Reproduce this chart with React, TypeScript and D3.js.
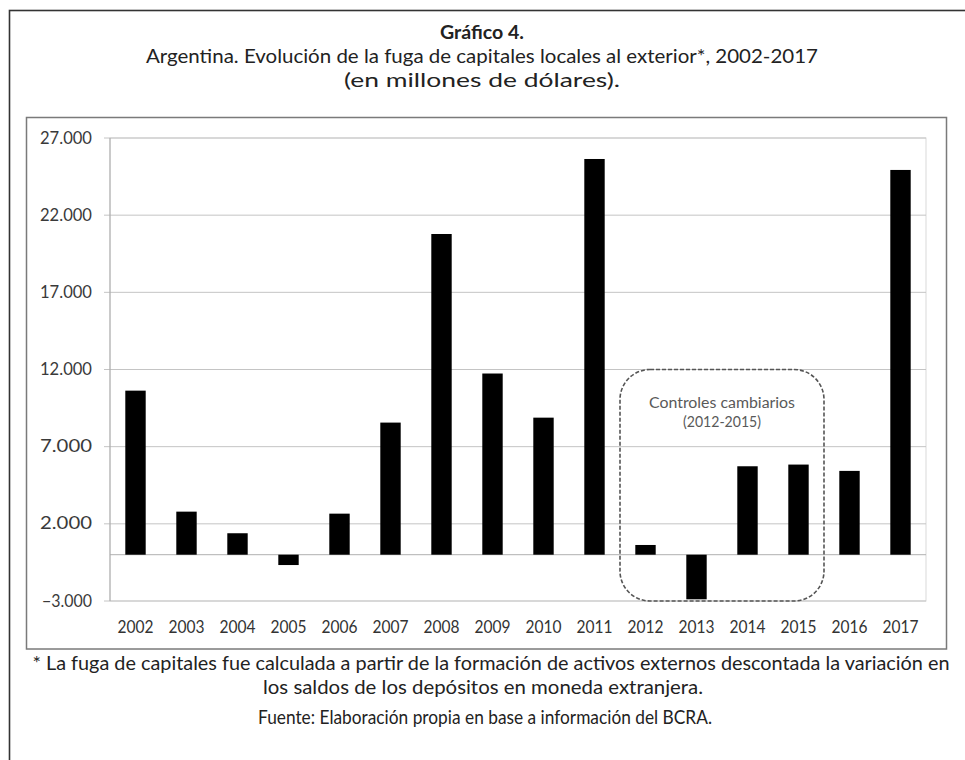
import React from "react";
import * as d3 from "d3";

const years = ["2002","2003","2004","2005","2006","2007","2008","2009","2010","2011","2012","2013","2014","2015","2016","2017"];
const fuga = [10630, 2790, 1390, -670, 2660, 8560, 20780, 11740, 8880, 25640, 630, -2890, 5730, 5840, 5430, 24930];
const yTicks = [-3000, 2000, 7000, 12000, 17000, 22000, 27000];
const annotYears = ["2012", "2015"];
const annotRange = [-3000, 12000];
const annotLines = ["Controles cambiarios", "(2012-2015)"];
const titleLines = ["Gráfico 4.", "Argentina. Evolución de la fuga de capitales locales al exterior*, 2002-2017", "(en millones de dólares)."];
const noteLines = [
  "* La fuga de capitales fue calculada a partir de la formación de activos externos descontada la variación en",
  "los saldos de los depósitos en moneda extranjera.",
  "Fuente: Elaboración propia en base a información del BCRA.",
];

const W = 965, H = 760;
const FONT = "Lato, 'Open Sans', sans-serif";
const fmt = d3.formatLocale({ decimal: ",", thousands: ".", grouping: [3], currency: ["$", ""] }).format(",.0f");

export default function App() {
  const x = d3.scaleBand<string>().domain(years).range([110, 926]).paddingInner(0.6).paddingOuter(0.3);
  const y = d3.scaleLinear().domain([-3000, 27000]).range([601, 138]);
  const halfGap = (x.step() * x.paddingInner()) / 2;
  const ax0 = (x(annotYears[0]) as number) - halfGap;
  const ax1 = (x(annotYears[1]) as number) + x.bandwidth() + halfGap;
  const ay0 = y(annotRange[1]);
  const ay1 = y(annotRange[0]);
  const axc = (ax0 + ax1) / 2;

  return (
    <svg width={W} height={H} style={{ position: "absolute", left: 0, top: 0, background: "#fff" }} fontFamily={FONT}>
      <rect x={0} y={0} width={W} height={H} fill="#fff" />
      {/* outer frame */}
      <rect x={9.5} y={10.5} width={1000} height={800} fill="none" stroke="#333" strokeWidth={1.6} />
      {/* titles */}
      <text x={482} y={39} textAnchor="middle" fontSize={19} fontWeight="bold" fill="#222" textLength={84} lengthAdjust="spacingAndGlyphs">{titleLines[0]}</text>
      <text x={482} y={63} textAnchor="middle" fontSize={19} fill="#222" textLength={672} lengthAdjust="spacingAndGlyphs">{titleLines[1]}</text>
      <text x={482} y={87} textAnchor="middle" fontSize={19} fill="#222" textLength={276} lengthAdjust="spacingAndGlyphs">{titleLines[2]}</text>
      {/* chart frame */}
      <rect x={26.5} y={117.5} width={920} height={531.5} fill="#fff" stroke="#7a7a7a" strokeWidth={1.5} />
      {/* plot area border */}
      <rect x={110} y={y(27000)} width={816} height={y(-3000) - y(27000)} fill="none" stroke="#d9d9d9" strokeWidth={1} />
      {/* gridlines + ticks */}
      {yTicks.map((t) => (
        <g key={t}>
          <line x1={104} x2={926} y1={y(t)} y2={y(t)} stroke="#c4c4c4" strokeWidth={1} />
          <text x={92} y={y(t) + 5.5} textAnchor="end" fontSize={17} fill="#3a3a3a" textLength={t < 0 ? 50 : 52} lengthAdjust="spacingAndGlyphs">{fmt(t)}</text>
        </g>
      ))}
      {/* zero line */}
      <line x1={110} x2={926} y1={y(0)} y2={y(0)} stroke="#b0b0b0" strokeWidth={1} />
      {/* y axis */}
      <line x1={110} x2={110} y1={y(27000)} y2={y(-3000)} stroke="#a8a8a8" strokeWidth={1} />
      {/* bars */}
      {years.map((yr, i) => {
        const v = fuga[i];
        const top = y(Math.max(0, v));
        const bot = y(Math.min(0, v));
        return <rect key={yr} x={x(yr)} y={top} width={x.bandwidth()} height={bot - top} fill="#000" />;
      })}
      {/* x labels */}
      {years.map((yr) => (
        <text key={yr} x={(x(yr) as number) + x.bandwidth() / 2} y={633} textAnchor="middle" fontSize={17.5} fill="#333" textLength={36} lengthAdjust="spacingAndGlyphs">{yr}</text>
      ))}
      {/* annotation */}
      <rect x={ax0} y={ay0} width={ax1 - ax0} height={ay1 - ay0} rx={30} ry={30} fill="none" stroke="#555" strokeWidth={1.6} strokeDasharray="4 2" />
      <text x={axc} y={ay0 + 38} textAnchor="middle" fontSize={15.5} fill="#595959" textLength={146} lengthAdjust="spacingAndGlyphs">{annotLines[0]}</text>
      <text x={axc} y={ay0 + 57} textAnchor="middle" fontSize={15.5} fill="#595959" textLength={78} lengthAdjust="spacingAndGlyphs">{annotLines[1]}</text>
      {/* notes */}
      <text x={491} y={670} textAnchor="middle" fontSize={19} fill="#222" textLength={917} lengthAdjust="spacingAndGlyphs">{noteLines[0]}</text>
      <text x={483} y={694} textAnchor="middle" fontSize={19} fill="#222" textLength={440} lengthAdjust="spacingAndGlyphs">{noteLines[1]}</text>
      <text x={485} y={724} textAnchor="middle" fontSize={19} fill="#222" textLength={454} lengthAdjust="spacingAndGlyphs">{noteLines[2]}</text>
    </svg>
  );
}
